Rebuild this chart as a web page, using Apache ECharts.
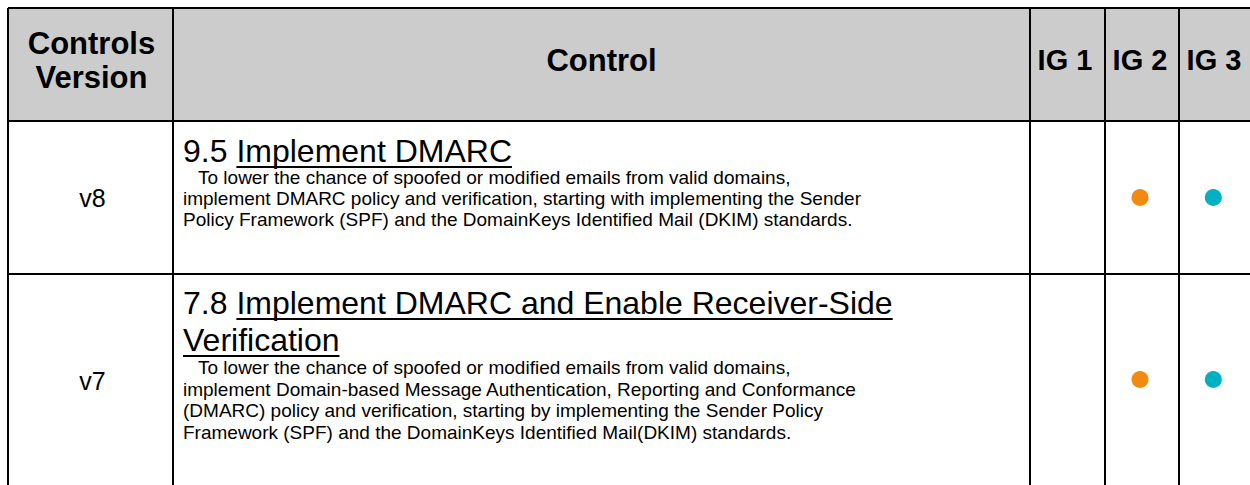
<!DOCTYPE html>
<html><head><meta charset="utf-8">
<script src="https://cdn.jsdelivr.net/npm/echarts@6/dist/echarts.min.js"></script>
<style>html,body{margin:0;padding:0;background:#fff;overflow:hidden}#c{width:1250px;height:485px}</style>
</head><body><div id="c"></div>
<script>
// ---- data ----
const headerLabels = ['Controls', 'Version'];
const controlHeader = 'Control';
const igNames = ['IG 1', 'IG 2', 'IG 3'];
const versions = ['v8', 'v7'];
const controlIds = ['9.5', '7.8'];
const controlTitles = [
  ['Implement DMARC'],
  ['Implement DMARC and Enable Receiver-Side', 'Verification']
];
const controlDescs = [
  ['To lower the chance of spoofed or modified emails from valid domains,',
   'implement DMARC policy and verification, starting with implementing the Sender',
   'Policy Framework (SPF) and the DomainKeys Identified Mail (DKIM) standards.'],
  ['To lower the chance of spoofed or modified emails from valid domains,',
   'implement Domain-based Message Authentication, Reporting and Conformance',
   '(DMARC) policy and verification, starting by implementing the Sender Policy',
   'Framework (SPF) and the DomainKeys Identified Mail(DKIM) standards.']
];
const ig1 = [false, false];
const ig2 = [true, true];
const ig3 = [true, true];

// ---- layout ----
const FONT = '"Liberation Sans", Arial, sans-serif';
const L = 8, T = 8, R = 1255, B = 487;
const colX = [L, 173, 1030, 1105, 1179, R];
const rowY = [T, 121, 274, B];
const igColors = ['#F18A0E', '#F18A0E', '#01B1C1'];
const titleSize = 32, bodySize = 19;
const titleTop = [[151], [303, 340]];
const bodyTop = [[177, 198, 219], [367, 389, 410, 432]];
const indent = 15;

const cvs = document.createElement('canvas').getContext('2d');
function tw(text, size, weight) {
  cvs.font = (weight || 'normal') + ' ' + size + 'px ' + FONT;
  return cvs.measureText(text).width;
}

const g = [];
g.push({type: 'rect', shape: {x: L, y: T, width: R - L, height: rowY[1] - T}, style: {fill: '#cccccc'}, z: 0});
rowY.forEach(y => g.push({type: 'line', shape: {x1: L, y1: y, x2: R, y2: y}, style: {stroke: '#000', lineWidth: 2}, z: 5}));
colX.forEach(x => g.push({type: 'line', shape: {x1: x, y1: T, x2: x, y2: B}, style: {stroke: '#000', lineWidth: 2}, z: 5}));

function txt(text, x, y, size, weight, align) {
  return {type: 'text', z: 10, style: {text: text, x: x, y: y, fontSize: size, fontFamily: FONT,
    fontWeight: weight || 'normal', fill: '#000', textAlign: align || 'left', textVerticalAlign: 'middle'}};
}
// header
const hcx = (colX[0] + colX[1]) / 2;
g.push(txt(headerLabels[0], hcx + 1, 43, 31, 'bold', 'center'));
g.push(txt(headerLabels[1], hcx + 1, 77, 31, 'bold', 'center'));
g.push(txt(controlHeader, (colX[1] + colX[2]) / 2, 60, 31, 'bold', 'center'));
igNames.forEach((n, i) => g.push(txt(n, (colX[2 + i] + Math.min(colX[3 + i], colX[2 + i] + 74)) / 2 - 2, 60, 29, 'bold', 'center')));

// rows
versions.forEach((v, r) => {
  const cy = (rowY[r + 1] + rowY[r + 2]) / 2;
  g.push(txt(v, hcx + 2, cy, 25, 'normal', 'center'));
  const tx = 183;
  controlTitles[r].forEach((line, k) => {
    const y = titleTop[r][k];
    let x = tx;
    if (k === 0) {
      const pre = controlIds[r] + ' ';
      g.push(txt(pre, x, y, titleSize));
      x += tw(pre, titleSize);
    }
    g.push(txt(line, x, y, titleSize));
    const w = tw(line, titleSize);
    g.push({type: 'rect', z: 10, shape: {x: x, y: y + 15, width: w, height: 2}, style: {fill: '#000'}});
  });
  controlDescs[r].forEach((line, k) => {
    g.push(txt(line, tx + (k === 0 ? indent : 0), bodyTop[r][k], bodySize));
  });
});

// dots via scatter on per-row category grids
const grids = [], xAxes = [], yAxes = [], series = [];
versions.forEach((v, r) => {
  grids.push({left: colX[2], width: colX[5] - colX[2], top: rowY[r + 1], height: rowY[r + 2] - rowY[r + 1], containLabel: false});
  xAxes.push({type: 'category', gridIndex: r, data: igNames, show: false, boundaryGap: true});
  yAxes.push({type: 'category', gridIndex: r, data: [v], show: false, boundaryGap: true});
  const flags = [ig1[r], ig2[r], ig3[r]];
  const data = [];
  flags.forEach((f, i) => { if (f) data.push({value: [igNames[i], v], itemStyle: {color: igColors[i], opacity: 1}}); });
  series.push({type: 'scatter', xAxisIndex: r, yAxisIndex: r, symbol: 'circle', symbolSize: 17,
    itemStyle: {opacity: 1}, data: data, z: 20, silent: true});
});

const chart = echarts.init(document.getElementById('c'), null, {renderer: 'svg'});
chart.setOption({
  animation: false,
  backgroundColor: '#fff',
  grid: grids, xAxis: xAxes, yAxis: yAxes, series: series,
  graphic: {elements: g}
});
</script>
</body></html>
